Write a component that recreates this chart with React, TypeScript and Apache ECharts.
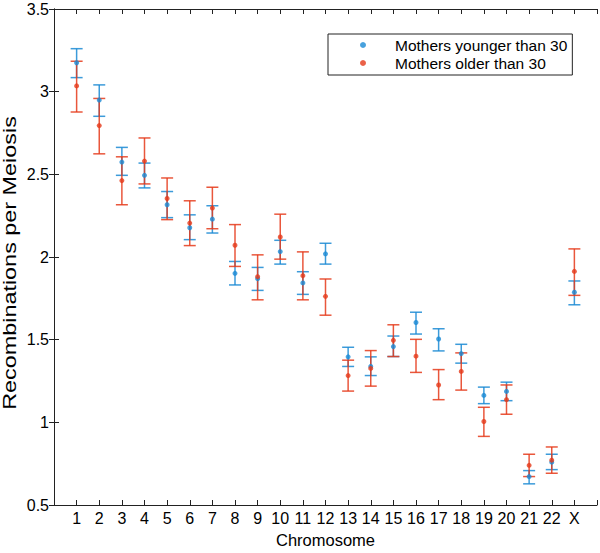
import React, { useEffect, useRef } from "react";
import * as echarts from "echarts";

const categories = ["1","2","3","4","5","6","7","8","9","10","11","12","13","14","15","16","17","18","19","20","21","22","X"];

const youngerMean = [3.175, 2.949, 2.574, 2.494, 2.316, 2.177, 2.229, 1.901, 1.869, 2.033, 1.843, 2.019, 1.396, 1.338, 1.458, 1.604, 1.504, 1.416, 1.163, 1.187, 0.672, 0.759, 1.787];
const youngerLow = [3.085, 2.851, 2.494, 2.418, 2.238, 2.105, 2.145, 1.831, 1.798, 1.957, 1.774, 1.957, 1.338, 1.283, 1.398, 1.534, 1.432, 1.358, 1.113, 1.131, 0.628, 0.714, 1.711];
const youngerHigh = [3.260, 3.041, 2.663, 2.568, 2.396, 2.255, 2.310, 1.973, 1.937, 2.101, 1.911, 2.083, 1.454, 1.396, 1.522, 1.666, 1.566, 1.472, 1.213, 1.243, 0.708, 0.807, 1.855];

const olderMean = [3.035, 2.795, 2.462, 2.580, 2.354, 2.205, 2.296, 2.071, 1.881, 2.121, 1.887, 1.762, 1.283, 1.326, 1.496, 1.400, 1.226, 1.308, 1.005, 1.137, 0.740, 0.771, 1.913];
const olderLow = [2.877, 2.624, 2.316, 2.442, 2.226, 2.069, 2.171, 1.943, 1.741, 1.987, 1.741, 1.648, 1.189, 1.219, 1.398, 1.302, 1.137, 1.195, 0.915, 1.049, 0.672, 0.692, 1.768];
const olderHigh = [3.184, 2.959, 2.606, 2.720, 2.478, 2.340, 2.422, 2.196, 2.013, 2.259, 2.031, 1.867, 1.376, 1.434, 1.590, 1.502, 1.319, 1.420, 1.091, 1.226, 0.807, 0.851, 2.049];

const yTitle = "Recombinations per Meiosis";
const xTitle = "Chromosome";

const BLUE = "#1a8ad4";
const RED = "#e5391a";
const FONT = "'Liberation Sans', Arial, Helvetica, sans-serif";

function errorSeries(name: string, low: number[], high: number[], color: string) {
  return {
    name: name + " err",
    type: "custom",
    xAxisIndex: 0,
    yAxisIndex: 0,
    silent: true,
    data: low.map((l, i) => [i + 1, l, high[i]]),
    encode: { x: 0, y: [1, 2] },
    renderItem: (params: any, api: any) => {
      const x = api.value(0);
      const lo = api.coord([x, api.value(1)]);
      const hi = api.coord([x, api.value(2)]);
      const hw = 6;
      const style = { stroke: color, lineWidth: 1.5, opacity: 0.85 };
      return {
        type: "group",
        children: [
          { type: "line", shape: { x1: lo[0], y1: lo[1], x2: hi[0], y2: hi[1] }, style },
          { type: "line", shape: { x1: lo[0] - hw, y1: lo[1], x2: lo[0] + hw, y2: lo[1] }, style },
          { type: "line", shape: { x1: hi[0] - hw, y1: hi[1], x2: hi[0] + hw, y2: hi[1] }, style },
        ],
      };
    },
    z: 2,
  };
}

export default function App() {
  const ref = useRef<HTMLDivElement>(null);
  useEffect(() => {
    if (!ref.current) return;
    const chart = echarts.init(ref.current, undefined, { renderer: "svg" });
    const axisLine = { show: true, lineStyle: { color: "#222", width: 1 } };
    const tick = { show: true, inside: true, length: 5, lineStyle: { color: "#222" } };
    chart.setOption({
      animation: false,
      backgroundColor: "#fff",
      grid: { left: 54, right: 1, top: 9, bottom: 43, containLabel: false },
      legend: {
        orient: "vertical",
        left: 328,
        top: 34,
        padding: [3, 5, 4, 32],
        itemGap: 2,
        itemWidth: 6,
        itemHeight: 6,
        borderColor: "#222",
        borderWidth: 1,
        backgroundColor: "#fff",
        data: [
          { name: "Mothers younger than 30", icon: "circle" },
          { name: "Mothers older than 30", icon: "circle" },
        ],
        textStyle: { fontFamily: FONT, fontSize: 15.5, lineHeight: 16, color: "#000", padding: [0, 0, 0, 24] },
      },
      graphic: [
        {
          type: "text",
          x: 10,
          y: 263,
          rotation: Math.PI / 2,
          scaleX: 1.3,
          style: {
            text: yTitle,
            fontFamily: FONT,
            fontSize: 18,
            fill: "#000",
            align: "center",
            verticalAlign: "middle",
          },
        },
      ],
      xAxis: [
        {
          type: "value",
          min: 0,
          max: 24,
          interval: 1,
          position: "bottom",
          axisLine,
          axisTick: tick,
          splitLine: { show: false },
          axisLabel: {
            margin: 5,
            fontFamily: FONT,
            fontSize: 16,
            color: "#000",
            formatter: (v: number) => (v >= 1 && v <= categories.length ? categories[v - 1] : ""),
          },
          name: xTitle,
          nameLocation: "middle",
          nameGap: 26,
          nameTextStyle: { fontFamily: FONT, fontSize: 16.5, color: "#000" },
        },
        {
          type: "value",
          min: 0,
          max: 24,
          interval: 1,
          position: "top",
          axisLine,
          axisTick: tick,
          splitLine: { show: false },
          axisLabel: { show: false },
        },
      ],
      yAxis: [
        {
          type: "value",
          min: 0.5,
          max: 3.5,
          interval: 0.5,
          position: "left",
          axisLine,
          axisTick: tick,
          splitLine: { show: false },
          axisLabel: { margin: 5, fontFamily: FONT, fontSize: 16, color: "#000" },
        },
        {
          type: "value",
          min: 0.5,
          max: 3.5,
          interval: 0.5,
          position: "right",
          axisLine,
          axisTick: tick,
          splitLine: { show: false },
          axisLabel: { show: false },
        },
      ],
      series: [
        errorSeries("Mothers younger than 30", youngerLow, youngerHigh, BLUE),
        errorSeries("Mothers older than 30", olderLow, olderHigh, RED),
        {
          name: "Mothers younger than 30",
          type: "scatter",
          symbol: "circle",
          symbolSize: 5,
          itemStyle: { color: BLUE },
          data: youngerMean.map((v, i) => [i + 1, v]),
          z: 3,
        },
        {
          name: "Mothers older than 30",
          type: "scatter",
          symbol: "circle",
          symbolSize: 5,
          itemStyle: { color: RED },
          data: olderMean.map((v, i) => [i + 1, v]),
          z: 4,
        },
      ],
    });
    return () => chart.dispose();
  }, []);
  return <div ref={ref} style={{ width: 600, height: 553, position: "absolute", left: 0, top: 0 }} />;
}
